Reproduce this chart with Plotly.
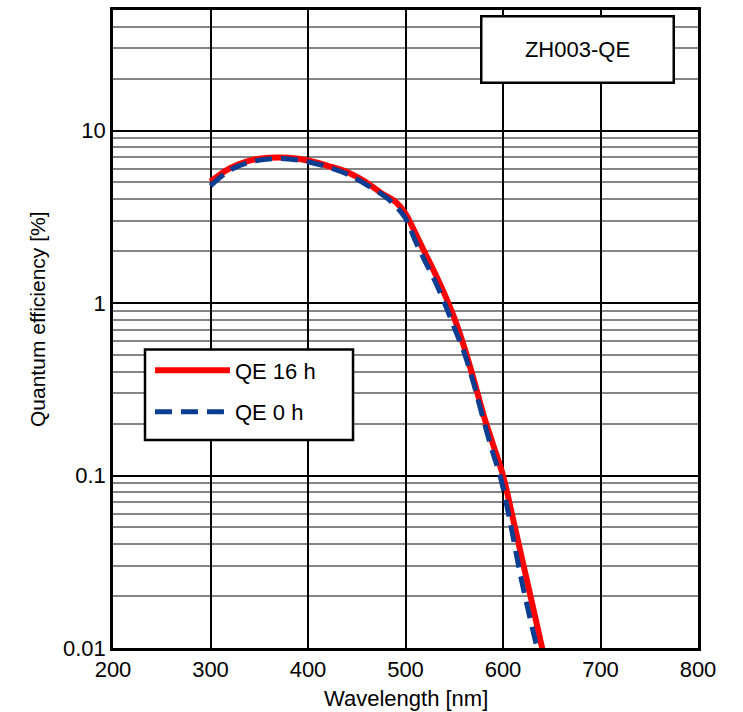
import plotly.graph_objects as go

# ---- data ----
wl_16h = [300, 320, 340, 360, 380, 400, 420, 440, 460, 475, 490, 500, 510, 520, 530, 540, 550, 560, 570, 580, 590, 600, 610, 620, 630, 641]
qe_16h = [5.05, 6.05, 6.7, 6.95, 6.95, 6.7, 6.25, 5.75, 5.0, 4.35, 3.85, 3.3, 2.55, 1.95, 1.5, 1.13, 0.82, 0.56, 0.36, 0.225, 0.15, 0.1, 0.057, 0.032, 0.018, 0.0095]

wl_0h = [300, 320, 340, 360, 380, 400, 420, 440, 460, 480, 490, 500, 510, 520, 530, 540, 550, 560, 570, 580, 590, 597, 607, 617, 627, 637]
qe_0h = [4.78, 5.9, 6.55, 6.85, 6.85, 6.6, 6.15, 5.6, 4.85, 4.1, 3.65, 3.1, 2.3, 1.75, 1.35, 1.0, 0.72, 0.52, 0.34, 0.21, 0.133, 0.1, 0.055, 0.028, 0.0155, 0.009]

x_ticks = [200, 300, 400, 500, 600, 700, 800]
y_ticks = [0.01, 0.1, 1, 10]
y_ticktext = ["0.01", "0.1", "1", "10"]

FONT = "Liberation Sans, Arial, sans-serif"

fig = go.Figure()
fig.add_trace(go.Scatter(
    x=wl_16h, y=qe_16h, mode="lines", name="QE 16 h", legendgroup="a",
    line=dict(color="#ff0000", width=6, shape="spline", smoothing=1.0),
))
fig.add_trace(go.Scatter(
    x=wl_0h, y=qe_0h, mode="lines", name="QE 0 h", legendgroup="b",
    line=dict(color="#0b3d91", width=5, dash="17px,9px", shape="spline", smoothing=1.0),
))

fig.update_layout(
    width=743, height=712,
    margin=dict(l=113, r=45, t=7, b=64),
    paper_bgcolor="white", plot_bgcolor="white",
    font=dict(family=FONT, size=22, color="black"),
    showlegend=True,
    legend=dict(
        x=0.0632, y=0.468, xanchor="left", yanchor="top",
        bgcolor="rgba(0,0,0,0)", borderwidth=0,
        font=dict(family=FONT, size=22, color="black"),
        itemwidth=75, tracegroupgap=10,
    ),
    xaxis=dict(
        range=[200, 800], tickvals=x_ticks, ticks="",
        showgrid=True, gridcolor="black", gridwidth=2,
        showline=True, linecolor="black", linewidth=2.5, mirror=True,
        zeroline=False, tickfont=dict(size=22),
    ),
    yaxis=dict(
        type="log", range=[-2, 1.699], tickvals=y_ticks, ticktext=y_ticktext, ticks="",
        showgrid=True, gridcolor="black", gridwidth=2,
        showline=True, linecolor="black", linewidth=2.5, mirror=True,
        zeroline=False, tickfont=dict(size=22),
        minor=dict(dtick="D1", showgrid=True, gridcolor="#858585", gridwidth=1.5, ticks=""),
    ),
    shapes=[
        dict(type="rect", xref="paper", yref="paper", x0=0.0547, x1=0.4103, y0=0.326, y1=0.468,
             fillcolor="white", line=dict(color="black", width=2.5), layer="above"),
    ],
    annotations=[
        dict(text="ZH003-QE", xref="paper", yref="paper", x=0.794, y=0.938,
             xanchor="center", yanchor="middle", showarrow=False,
             font=dict(size=22), bgcolor="white", bordercolor="black",
             borderwidth=2.5, borderpad=2, width=186, height=60),
        dict(text="Quantum efficiency [%]", xref="paper", yref="paper",
             x=-0.13, y=0.5156, xanchor="center", yanchor="middle",
             textangle=-90, showarrow=False, font=dict(size=21)),
        dict(text="Wavelength [nm]", xref="paper", yref="paper",
             x=0.5, y=-0.0796, xanchor="center", yanchor="middle",
             showarrow=False, font=dict(size=22)),
    ],
)

fig.write_html("out.html", config={"displayModeBar": False},
               post_script="document.body.style.margin='0px';")
